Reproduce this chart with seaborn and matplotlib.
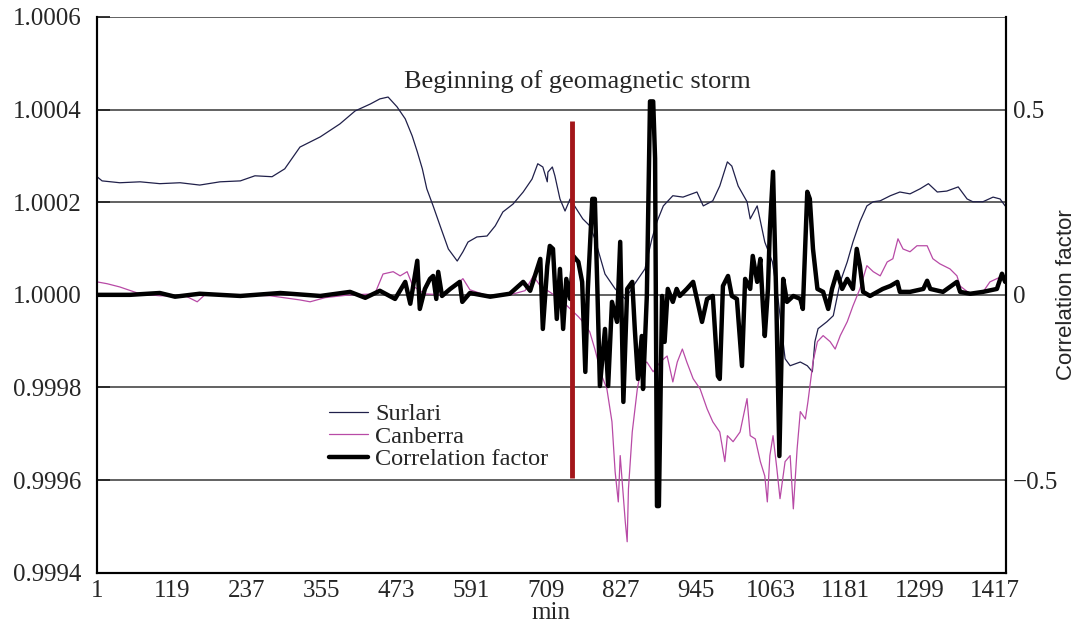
import matplotlib
matplotlib.use("Agg")
import matplotlib.pyplot as plt
import seaborn as sns
import pandas as pd

# ---- data -------------------------------------------------------------
surlari_min = [1, 9, 37, 69, 100, 132, 163, 195, 227, 250, 277, 297, 321, 337, 353, 384, 408, 432, 447, 460,
               474, 487, 498, 506, 514, 521, 531, 542, 555, 569, 578, 586, 600, 616, 629, 641, 657, 673, 687, 696,
               704, 711, 712, 719, 723, 731, 739, 747, 760, 767, 778, 786, 802, 818, 834, 849, 865, 876, 884, 894,
               909, 925, 947, 957, 972, 983, 995, 1002, 1012, 1026, 1031, 1042, 1054, 1066, 1075, 1086, 1094, 1110,
               1121, 1129, 1133, 1138, 1152, 1162, 1173, 1184, 1193, 1204, 1215, 1225, 1236, 1252, 1267, 1283, 1299,
               1312, 1326, 1341, 1359, 1373, 1382, 1398, 1414, 1425, 1433]
surlari_val = [1.000255, 1.000246, 1.000242, 1.000244, 1.000240, 1.000242, 1.000237, 1.000244, 1.000246, 1.000257,
               1.000255, 1.000272, 1.000319, 1.000330, 1.000341, 1.000369, 1.000397, 1.000412, 1.000423, 1.000427,
               1.000406, 1.000380, 1.000343, 1.000309, 1.000272, 1.000229, 1.000192, 1.000149, 1.000099, 1.000073,
               1.000093, 1.000114, 1.000125, 1.000127, 1.000149, 1.000179, 1.000196, 1.000222, 1.000250, 1.000283,
               1.000276, 1.000244, 1.000265, 1.000276, 1.000257, 1.000207, 1.000181, 1.000207, 1.000179, 1.000164,
               1.000149, 1.000121, 1.000045, 1.000013, 0.999991, 1.000024, 1.000056, 1.000121, 1.000158, 1.000192,
               1.000214, 1.000211, 1.000222, 1.000192, 1.000203, 1.000235, 1.000287, 1.000278, 1.000235, 1.000201,
               1.000164, 1.000192, 1.000114, 1.000071, 0.999991, 0.999862, 0.999847, 0.999855, 0.999847, 0.999834,
               0.999899, 0.999927, 0.999942, 0.999955, 1.000028, 1.000071, 1.000114, 1.000158, 1.000192, 1.000201,
               1.000203, 1.000214, 1.000222, 1.000218, 1.000229, 1.000240, 1.000222, 1.000224, 1.000233, 1.000207,
               1.000201, 1.000201, 1.000211, 1.000207, 1.000192]

canberra_min = [1, 17, 37, 69, 100, 140, 159, 171, 227, 274, 321, 337, 361, 400, 439, 452, 468, 479, 490, 499,
                518, 550, 578, 589, 621, 652, 676, 689, 700, 715, 731, 747, 760, 767, 778, 786, 797, 805, 813, 818,
                823, 826, 834, 837, 839, 845, 853, 860, 868, 878, 889, 900, 909, 916, 924, 931, 941, 952, 963, 972,
                983, 991, 995, 1004, 1015, 1026, 1031, 1039, 1047, 1054, 1058, 1062, 1067, 1073, 1078, 1086, 1094,
                1099, 1105, 1110, 1118, 1122, 1130, 1137, 1146, 1157, 1165, 1173, 1184, 1193, 1204, 1215, 1225, 1236,
                1247, 1256, 1264, 1272, 1283, 1294, 1310, 1319, 1330, 1346, 1357, 1362, 1378, 1398, 1409, 1420, 1430]
canberra_val = [1.000028, 1.000024, 1.000017, 1.000002, 0.999998, 0.999998, 0.999985, 1.000000, 1.000000, 0.999998,
                0.999989, 0.999985, 0.999994, 1.000000, 1.000002, 1.000045, 1.000050, 1.000041, 1.000050, 1.000019,
                1.000002, 1.000000, 1.000035, 1.000011, 0.999996, 1.000000, 1.000009, 1.000041, 1.000019, 1.000006,
                0.999991, 0.999970, 0.999953, 0.999942, 0.999920, 0.999883, 0.999825, 0.999797, 0.999726, 0.999618,
                0.999553, 0.999653, 0.999510, 0.999467, 0.999581, 0.999704, 0.999797, 0.999847, 0.999855, 0.999834,
                0.999855, 0.999868, 0.999812, 0.999855, 0.999883, 0.999855, 0.999819, 0.999797, 0.999754, 0.999726,
                0.999704, 0.999640, 0.999696, 0.999683, 0.999704, 0.999776, 0.999696, 0.999689, 0.999640, 0.999609,
                0.999553, 0.999653, 0.999696, 0.999625, 0.999560, 0.999640, 0.999653, 0.999538, 0.999668, 0.999748,
                0.999732, 0.999769, 0.999855, 0.999899, 0.999912, 0.999899, 0.999883, 0.999912, 0.999942, 0.999976,
                1.000013, 1.000063, 1.000050, 1.000041, 1.000071, 1.000078, 1.000121, 1.000099, 1.000093, 1.000106,
                1.000106, 1.000078, 1.000067, 1.000056, 1.000041, 1.000019, 1.000002, 1.000006, 1.000028, 1.000035,
                1.000041]

corr_min = [1, 53, 100, 124, 163, 227, 290, 353, 400, 424, 447, 471, 487, 495, 506, 510, 518, 526, 531, 536,
            539, 545, 558, 573, 577, 589, 621, 652, 673, 684, 700, 704, 711, 715, 720, 726, 731, 736, 741, 747,
            752, 760, 766, 771, 775, 782, 786, 790, 794, 802, 807, 813, 821, 826, 831, 837, 845, 849, 854, 860,
            862, 868, 873, 878, 881, 884, 887, 892, 896, 901, 909, 915, 920, 931, 941, 947, 955, 963, 972, 980,
            983, 988, 996, 1002, 1010, 1018, 1023, 1031, 1035, 1042, 1047, 1051, 1054, 1059, 1062, 1067, 1072,
            1077, 1083, 1089, 1099, 1110, 1114, 1121, 1125, 1130, 1137, 1146, 1154, 1160, 1168, 1176, 1184, 1193,
            1199, 1204, 1209, 1220, 1240, 1252, 1263, 1267, 1283, 1304, 1310, 1315, 1335, 1357, 1362, 1378, 1398,
            1420, 1428, 1433]
corr_val = [0.0, 0.0, 0.005, -0.005, 0.003, -0.003, 0.005, -0.003, 0.008, -0.008, 0.011, -0.011, 0.035, -0.024,
            0.092, -0.038, 0.016, 0.043, 0.051, -0.011, 0.062, -0.003, 0.016, 0.035, -0.019, 0.005, -0.005, 0.003,
            0.035, 0.011, 0.097, -0.092, 0.078, 0.132, 0.124, -0.065, 0.070, -0.092, 0.043, -0.011, 0.105, 0.089,
            0.035, -0.208, 0.016, 0.259, 0.259, 0.016, -0.246, -0.092, -0.246, -0.019, -0.073, 0.143, -0.289, 0.016,
            0.035, -0.092, -0.227, -0.111, -0.254, -0.003, 0.522, 0.522, 0.368, -0.570, -0.570, -0.003, -0.127,
            0.016, -0.019, 0.016, -0.003, 0.016, 0.035, -0.011, -0.073, -0.011, -0.003, -0.219, -0.227, 0.024,
            0.051, -0.003, -0.011, -0.192, 0.043, 0.016, 0.105, 0.035, 0.097, -0.030, -0.111, 0.016, 0.178, 0.332,
            -0.003, -0.435, 0.043, -0.019, -0.003, -0.011, -0.038, 0.278, 0.259, 0.124, 0.016, 0.008, -0.038, 0.016,
            0.062, 0.016, 0.043, 0.016, 0.124, 0.078, 0.008, -0.003, 0.016, 0.024, 0.035, 0.008, 0.008, 0.016,
            0.038, 0.016, 0.008, 0.035, 0.008, 0.003, 0.008, 0.016, 0.057, 0.035]

storm_minute = 750
storm_span = (0.999605, 1.000376)
storm_label = "Beginning of geomagnetic storm"
x_ticks = [1, 119, 237, 355, 473, 591, 709, 827, 945, 1063, 1181, 1299, 1417]
left_ticks = [0.9994, 0.9996, 0.9998, 1.0000, 1.0002, 1.0004, 1.0006]
right_ticks = [-0.5, 0, 0.5]

# ---- style ------------------------------------------------------------
sns.set_style("white")
plt.rcParams["font.family"] = ["Liberation Serif", "DejaVu Serif"]
plt.rcParams["axes.linewidth"] = 1.5

fig = plt.figure(figsize=(10.78, 6.26), dpi=100)
ax = fig.add_axes([0.09, 0.085, 0.843, 0.888])
ax2 = ax.twinx()

df_s = pd.DataFrame({"minute": surlari_min, "value": surlari_val})
df_c = pd.DataFrame({"minute": canberra_min, "value": canberra_val})
df_r = pd.DataFrame({"minute": corr_min, "value": corr_val})

sns.lineplot(data=df_s, x="minute", y="value", ax=ax, color="#20204a", lw=0.9,
             sort=False, estimator=None, label="Surlari", legend=False)
sns.lineplot(data=df_c, x="minute", y="value", ax=ax, color="#b84aa6", lw=0.9,
             sort=False, estimator=None, label="Canberra", legend=False)
sns.lineplot(data=df_r, x="minute", y="value", ax=ax2, color="black", lw=3.2,
             sort=False, estimator=None, label="Correlation factor", legend=False)

# storm onset marker (in left-axis units, drawn above the correlation trace)
ax2.plot([storm_minute, storm_minute], list(storm_span), transform=ax.transData,
         color="#a3161a", lw=3.5, solid_capstyle="butt", zorder=5)
ax.text(storm_minute + 8, 1.00046, storm_label, fontsize=19, ha="center", va="center")

# axes limits and ticks
ax.set_xlim(1, 1434)
ax.set_ylim(0.9994, 1.0006)
ax2.set_ylim(-0.75, 0.75)
ax.set_xticks(x_ticks)
ax.set_xticks([(a + b) / 2 for a, b in zip(x_ticks[:-1], x_ticks[1:])], minor=True)
ax.set_yticks(left_ticks)
ax.set_yticklabels([f"{t:.4f}" for t in left_ticks])
ax2.set_yticks(right_ticks)
ax2.set_yticklabels(["\u22120.5", "0", "0.5"])

ax.tick_params(axis="x", which="major", direction="in", length=9, width=1.3, labelsize=18, pad=5)
ax.tick_params(axis="x", which="minor", direction="in", length=6, width=1.3)
ax.tick_params(axis="y", direction="in", length=9, width=1.3, labelsize=18, pad=11)
ax2.tick_params(axis="y", direction="in", length=0, labelsize=18, pad=5)

ax.yaxis.grid(True, color="#555555", lw=1.3)
ax.set_axisbelow(True)

for a in (ax, ax2):
    a.spines["top"].set_visible(False)
    for s in ("left", "right", "bottom"):
        a.spines[s].set_color("black")

ax.set_xlabel("min", fontsize=18, labelpad=0)
ax.set_ylabel("")
ax2.set_ylabel("Correlation factor", fontsize=16, family=["Liberation Sans", "DejaVu Sans"])
ax2.yaxis.set_label_coords(1.055, 0.5)

handles = ax.get_lines()[:2] + [ax2.get_lines()[0]]
ax2.legend(handles, ["Surlari", "Canberra", "Correlation factor"], loc="upper left",
           bbox_to_anchor=(0.305, 0.356), bbox_transform=fig.transFigure, frameon=False,
           fontsize=17.5, handlelength=1.6, handletextpad=0.3, labelspacing=0.02,
           borderpad=0.0, borderaxespad=0.0)

fig.savefig("out.png", dpi=100)
